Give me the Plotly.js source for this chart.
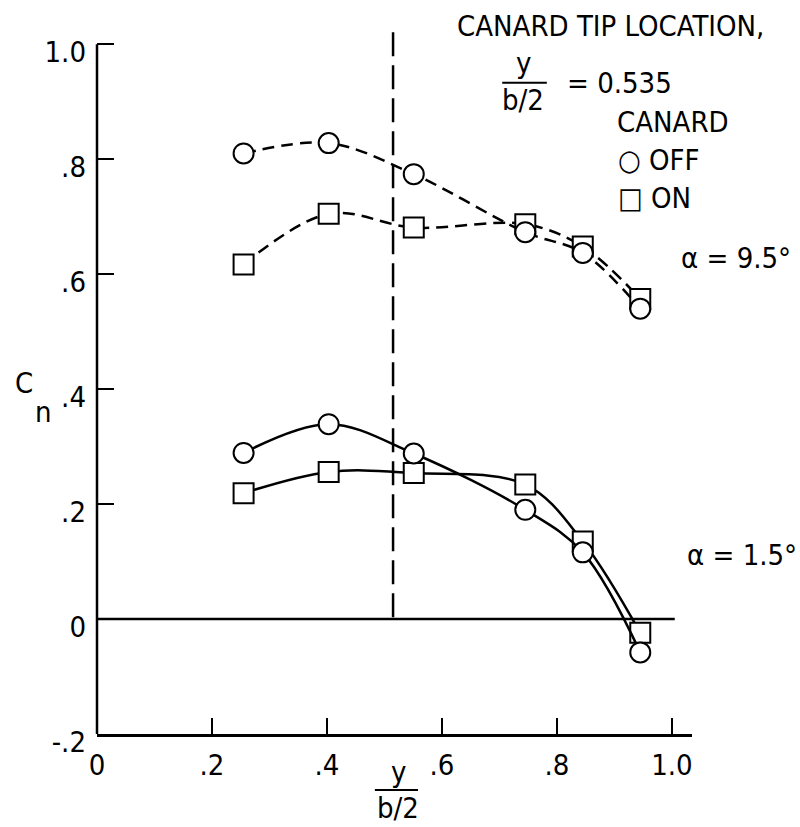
<!DOCTYPE html>
<html>
<head>
<meta charset="utf-8">
<script src="https://cdn.plot.ly/plotly-3.0.1.min.js"></script>
<style>
html, body { margin: 0; padding: 0; background: #fff; }
#chart { width: 800px; height: 827px; }
</style>
</head>
<body>
<div id="chart"></div>
<script>
// ---- data ----
const spanStations = [0.255, 0.403, 0.551, 0.745, 0.845, 0.945];   // y/(b/2)
const cnOffAlpha95 = [0.810, 0.828, 0.774, 0.673, 0.637, 0.540];   // canard off, alpha 9.5
const cnOnAlpha95  = [0.617, 0.705, 0.681, 0.687, 0.648, 0.557];   // canard on, alpha 9.5
const cnOffAlpha15 = [0.289, 0.339, 0.288, 0.190, 0.116, -0.058];  // canard off, alpha 1.5
const cnOnAlpha15  = [0.219, 0.256, 0.254, 0.234, 0.135, -0.024];  // canard on, alpha 1.5

const xTickVals = [0, 0.2, 0.4, 0.6, 0.8, 1.0];
const xTickText = ["0", ".2", ".4", ".6", ".8", "1.0"];
const yTickVals = [-0.2, 0, 0.2, 0.4, 0.6, 0.8, 1.0];
const yTickText = ["-.2", "0", ".2", ".4", ".6", ".8", "1.0"];

const canardTipLineX = 0.515;
const canardTipLineTop = 1.021;
const zeroLineEnd = 1.005;

const FONT = '"Liberation Sans Narrow", "DejaVu Sans Condensed", "Arial Narrow", "Liberation Sans", sans-serif';
const FS = 29;

function series(yVals, dash, symbol) {
  return {
    x: spanStations,
    y: yVals,
    type: 'scatter',
    mode: 'lines+markers',
    line: { color: '#000', width: 2.5, dash: dash, shape: 'spline', smoothing: 1 },
    marker: { symbol: symbol, size: 20, color: '#fff', line: { color: '#000', width: 2 } },
    cliponaxis: false,
    hoverinfo: 'skip'
  };
}

const traces = [
  series(cnOnAlpha95, '12px,7px', 'square'),
  series(cnOffAlpha95, '12px,7px', 'circle'),
  series(cnOnAlpha15, 'solid', 'square'),
  series(cnOffAlpha15, 'solid', 'circle')
];

function txt(text, x, y, xanchor) {
  return { text: text, x: x, y: y, xref: 'paper', yref: 'paper', xanchor: xanchor || 'left',
           yanchor: 'middle', showarrow: false, font: { family: FONT, size: FS, color: '#000' } };
}

const annotations = [
  txt('CANARD TIP LOCATION,', 0.6017, 1.0014),
  txt('y', 0.716, 0.949, 'center'),
  txt('b/2', 0.716, 0.897, 'center'),
  txt('= 0.535', 0.787, 0.921),
  txt('CANARD', 0.8706, 0.8656),
  txt('○ OFF', 0.872, 0.812),
  txt('□ ON', 0.872, 0.758),
  txt('α = 9.5°', 0.978, 0.673),
  txt('α = 1.5°', 0.988, 0.253),
  txt('C', -0.1412, 0.4965),
  txt('n', -0.1076, 0.4554),
  txt('y', 0.506, -0.0537, 'center'),
  txt('b/2', 0.506, -0.1047, 'center')
];

const shapes = [
  // y axis line from -0.2 to 1.0
  { type: 'line', xref: 'paper', yref: 'y', x0: 0, x1: 0, y0: -0.2, y1: 1.0,
    line: { color: '#000', width: 2.5 } },
  // zero line
  { type: 'line', xref: 'x', yref: 'y', x0: 0, x1: zeroLineEnd, y0: 0, y1: 0,
    line: { color: '#000', width: 2.5 } },
  // canard tip location dashed line
  { type: 'line', xref: 'x', yref: 'y', x0: canardTipLineX, x1: canardTipLineX, y0: canardTipLineTop, y1: 0,
    line: { color: '#000', width: 2.5, dash: '24px,9px' } },
  // fraction bars
  { type: 'line', xref: 'paper', yref: 'paper', x0: 0.681, x1: 0.756, y0: 0.921, y1: 0.921,
    line: { color: '#000', width: 2 } },
  { type: 'line', xref: 'paper', yref: 'paper', x0: 0.467, x1: 0.5395, y0: -0.0792, y1: -0.0792,
    line: { color: '#000', width: 2 } }
];

const layout = {
  width: 800,
  height: 827,
  margin: { l: 97, r: 108, t: 27, b: 93, pad: 0 },
  paper_bgcolor: '#fff',
  plot_bgcolor: '#fff',
  showlegend: false,
  font: { family: FONT, size: FS, color: '#000' },
  xaxis: {
    range: [0, 1.035],
    tickmode: 'array', tickvals: xTickVals, ticktext: xTickText,
    ticks: 'inside', ticklen: 16, tickwidth: 2, tickcolor: '#000',
    showline: true, linewidth: 2.5, linecolor: '#000',
    showgrid: false, zeroline: false,
    ticklabelstandoff: 4,
    tickfont: { family: FONT, size: FS, color: '#000' },
    fixedrange: true
  },
  yaxis: {
    range: [-0.2, 1.03],
    tickmode: 'array', tickvals: yTickVals, ticktext: yTickText,
    ticks: 'inside', ticklen: 17, tickwidth: 2, tickcolor: '#000',
    showline: false,
    showgrid: false, zeroline: false,
    ticklabelstandoff: 10,
    ticklabelshift: 8,
    tickfont: { family: FONT, size: FS, color: '#000' },
    fixedrange: true
  },
  shapes: shapes,
  annotations: annotations
};

Plotly.newPlot('chart', traces, layout, { staticPlot: true, displayModeBar: false });
</script>
</body>
</html>
